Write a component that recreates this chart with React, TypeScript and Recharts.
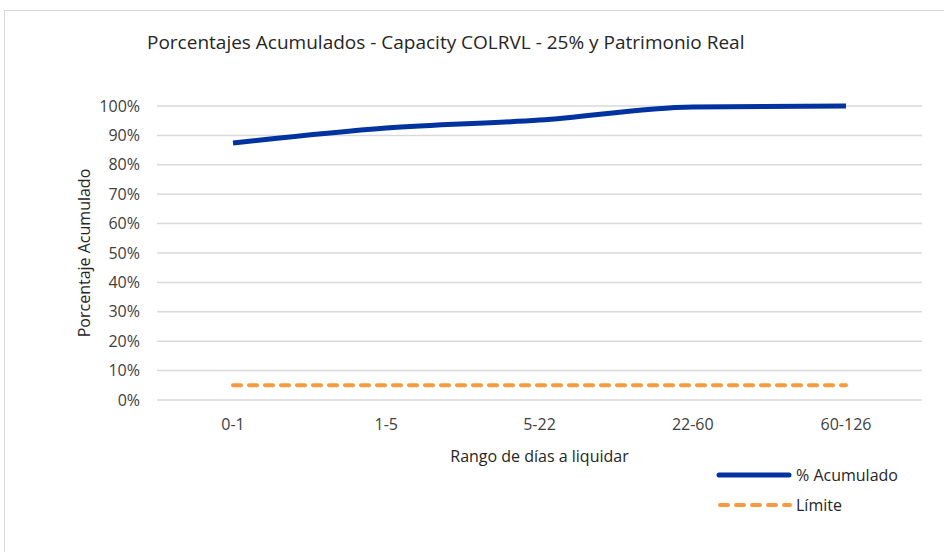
import { LineChart, Line, XAxis, YAxis, CartesianGrid } from 'recharts';

const categories = ['0-1', '1-5', '5-22', '22-60', '60-126'];
const acumulado = [0.874, 0.925, 0.952, 0.997, 1.0];
const limite = [0.05, 0.05, 0.05, 0.05, 0.05];
const yTicks = [0, 0.1, 0.2, 0.3, 0.4, 0.5, 0.6, 0.7, 0.8, 0.9, 1.0];

const data = categories.map((c, i) => ({
  rango: c,
  acumulado: acumulado[i],
  limite: limite[i],
}));

const font = '"Open Sans", "Noto Sans", sans-serif';
const BLUE = '#0033a0';
const ORANGE = '#fa9a3c';

function LegendBox() {
  return (
    <div style={{ position: 'absolute', left: 716, top: 460, fontFamily: font, fontSize: 16, color: '#262626' }}>
      <div style={{ display: 'flex', alignItems: 'center', height: 30 }}>
        <svg width={80} height={10}>
          <line x1={3} y1={5} x2={73} y2={5} stroke={BLUE} strokeWidth={5} strokeLinecap="round" />
        </svg>
        <span>% Acumulado</span>
      </div>
      <div style={{ display: 'flex', alignItems: 'center', height: 30 }}>
        <svg width={80} height={10}>
          <line x1={4} y1={5} x2={74} y2={5} stroke={ORANGE} strokeWidth={4} strokeDasharray="8 8" strokeLinecap="round" />
        </svg>
        <span>Límite</span>
      </div>
    </div>
  );
}

export default function App() {
  return (
    <div style={{ position: 'absolute', left: 0, top: 0, width: 944, height: 552, overflow: 'hidden', background: '#fff' }}>
      <div style={{ position: 'absolute', left: 4, top: 10, width: 980, height: 600, border: '1px solid #d9d9d9' }} />
      <div style={{ position: 'absolute', left: 147, top: 29, fontFamily: font, fontSize: 19, color: '#262626', whiteSpace: 'nowrap' }}>
        Porcentajes Acumulados - Capacity COLRVL - 25% y Patrimonio Real
      </div>
      <div style={{ position: 'absolute', left: 0, top: 0 }}>
        <LineChart width={944} height={552} data={data} margin={{ top: 106, right: 22, bottom: 82, left: 0 }}>
          <CartesianGrid horizontal vertical={false} stroke="#d9d9d9" strokeWidth={1.5} />
          <XAxis
            dataKey="rango"
            axisLine={false}
            tickLine={false}
            tickSize={0}
            tickMargin={19}
            height={70}
            padding={{ left: 76, right: 76 }}
            tick={{ fontFamily: font, fontSize: 16, fill: '#404040' }}
            label={{ value: 'Rango de días a liquidar', position: 'insideBottom', offset: 8, style: { fontFamily: font, fontSize: 16, fill: '#262626' } }}
          />
          <YAxis
            domain={[0, 1]}
            ticks={yTicks}
            width={157}
            axisLine={false}
            tickLine={false}
            tickSize={0}
            tickMargin={17}
            tickFormatter={(v: number) => `${Math.round(v * 100)}%`}
            tick={{ fontFamily: font, fontSize: 16, fill: '#404040' }}
            label={{ value: 'Porcentaje Acumulado', angle: -90, position: 'insideLeft', offset: 84, style: { fontFamily: font, fontSize: 16, fill: '#262626', textAnchor: 'middle' } }}
          />
          <Line type="monotone" dataKey="acumulado" name="% Acumulado" stroke={BLUE} strokeWidth={5} dot={false} isAnimationActive={false} />
          <Line type="linear" dataKey="limite" name="Límite" stroke={ORANGE} strokeWidth={4} strokeDasharray="8 8" strokeLinecap="round" dot={false} isAnimationActive={false} />
        </LineChart>
      </div>
      <LegendBox />
    </div>
  );
}
